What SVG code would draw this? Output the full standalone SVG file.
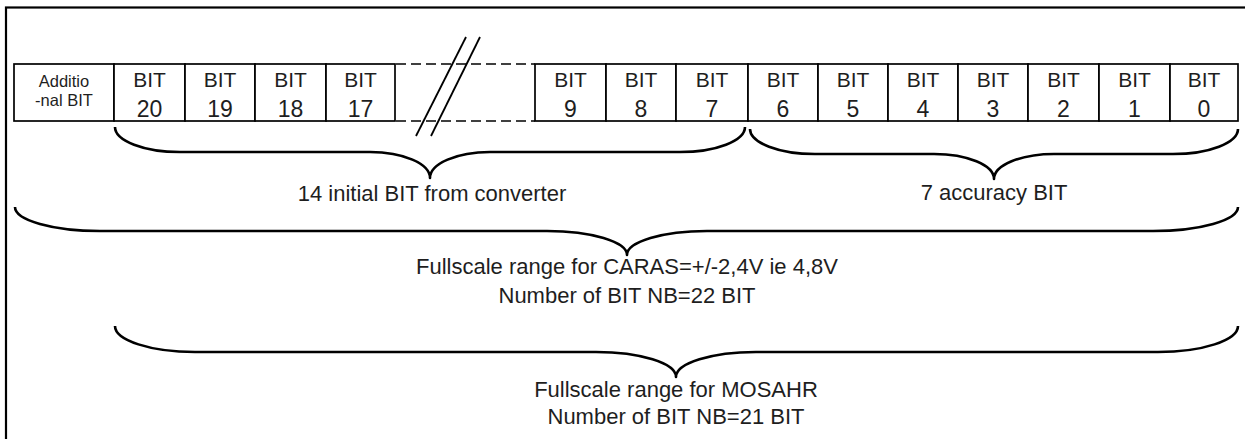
<svg xmlns="http://www.w3.org/2000/svg" width="1245" height="439" viewBox="0 0 1245 439">
<style>
.frame{fill:none;stroke:#000;stroke-width:2.2}
.cell{fill:#fff;stroke:#000;stroke-width:1.7}
.dash{fill:none;stroke:#000;stroke-width:1.7;stroke-dasharray:10 5}
.slash{fill:none;stroke:#000;stroke-width:1.8}
.brace{fill:none;stroke:#000;stroke-width:2.6;stroke-linejoin:round}
text{font-family:"Liberation Sans",Arial,sans-serif;fill:#1e1e1e;text-anchor:middle}
.bit{font-size:21px}
.num{font-size:23px}
.small{font-size:16.5px}
.lbl{font-size:22px}
</style>
<rect x="0" y="0" width="1245" height="439" fill="#fff"/>
<rect class="frame" x="6" y="7.5" width="1260" height="450"/>

<g id="register">
  <g id="cell-additional"><rect class="cell" x="14" y="64" width="100" height="57"/><text class="small" x="64" y="87">Additio</text><text class="small" x="64" y="106">-nal BIT</text></g>
  <g id="cell-bit20"><rect class="cell" x="114" y="64" width="71" height="57"/><text class="bit" x="149.5" y="87">BIT</text><text class="num" x="149.5" y="117">20</text></g>
  <g id="cell-bit19"><rect class="cell" x="185" y="64" width="70" height="57"/><text class="bit" x="220" y="87">BIT</text><text class="num" x="220" y="117">19</text></g>
  <g id="cell-bit18"><rect class="cell" x="255" y="64" width="71" height="57"/><text class="bit" x="290.5" y="87">BIT</text><text class="num" x="290.5" y="117">18</text></g>
  <g id="cell-bit17"><rect class="cell" x="326" y="64" width="69" height="57"/><text class="bit" x="360.5" y="87">BIT</text><text class="num" x="360.5" y="117">17</text></g>
  <g id="gap">
    <line class="dash" x1="396" y1="64" x2="535" y2="64"/>
    <line class="dash" x1="396" y1="121" x2="535" y2="121"/>
    <line class="slash" x1="466" y1="37" x2="416" y2="136"/>
    <line class="slash" x1="480" y1="37" x2="431" y2="136"/>
  </g>
  <g id="cell-bit9"><rect class="cell" x="535" y="64" width="71" height="57"/><text class="bit" x="570.5" y="87">BIT</text><text class="num" x="570.5" y="117">9</text></g>
  <g id="cell-bit8"><rect class="cell" x="606" y="64" width="70" height="57"/><text class="bit" x="641" y="87">BIT</text><text class="num" x="641" y="117">8</text></g>
  <g id="cell-bit7"><rect class="cell" x="676" y="64" width="72" height="57"/><text class="bit" x="712" y="87">BIT</text><text class="num" x="712" y="117">7</text></g>
  <g id="cell-bit6"><rect class="cell" x="748" y="64" width="70" height="57"/><text class="bit" x="783" y="87">BIT</text><text class="num" x="783" y="117">6</text></g>
  <g id="cell-bit5"><rect class="cell" x="818" y="64" width="70" height="57"/><text class="bit" x="853" y="87">BIT</text><text class="num" x="853" y="117">5</text></g>
  <g id="cell-bit4"><rect class="cell" x="888" y="64" width="70" height="57"/><text class="bit" x="923" y="87">BIT</text><text class="num" x="923" y="117">4</text></g>
  <g id="cell-bit3"><rect class="cell" x="958" y="64" width="70" height="57"/><text class="bit" x="993" y="87">BIT</text><text class="num" x="993" y="117">3</text></g>
  <g id="cell-bit2"><rect class="cell" x="1028" y="64" width="71" height="57"/><text class="bit" x="1063.5" y="87">BIT</text><text class="num" x="1063.5" y="117">2</text></g>
  <g id="cell-bit1"><rect class="cell" x="1099" y="64" width="71" height="57"/><text class="bit" x="1134.5" y="87">BIT</text><text class="num" x="1134.5" y="117">1</text></g>
  <g id="cell-bit0"><rect class="cell" x="1170" y="64" width="68" height="57"/><text class="bit" x="1204" y="87">BIT</text><text class="num" x="1204" y="117">0</text></g>
</g>

<g id="connectors">
  <path id="brace-initial" class="brace" d="M115,127 A65,25 0 0 0 180,152 H370 A60,26 0 0 1 430,178 A60,26 0 0 1 490,152 H680 A65,25 0 0 0 745,127"/>
  <path id="brace-accuracy" class="brace" d="M750,129 A65,25 0 0 0 815,154 H934 A60,25 0 0 1 994,179 A60,25 0 0 1 1054,154 H1173 A65,25 0 0 0 1238,129"/>
  <path id="brace-caras" class="brace" d="M15,207 A85,24 0 0 0 100,231 H547 A80,24 0 0 1 627,255 A80,24 0 0 1 707,231 H1153 A85,24 0 0 0 1238,207"/>
  <path id="brace-mosahr" class="brace" d="M115,326 A80,26 0 0 0 195,352 H596 A80,25 0 0 1 676,377 A80,25 0 0 1 756,352 H1158 A80,26 0 0 0 1238,326"/>
</g>

<g id="label-initial"><text class="lbl" x="432" y="201">14 initial BIT from converter</text></g>
<g id="label-accuracy"><text class="lbl" x="994" y="200">7 accuracy BIT</text></g>
<g id="label-caras"><text class="lbl" x="627" y="274">Fullscale range for CARAS=+/-2,4V ie 4,8V</text><text class="lbl" x="627" y="303">Number of BIT NB=22 BIT</text></g>
<g id="label-mosahr"><text class="lbl" x="676" y="397">Fullscale range for MOSAHR</text><text class="lbl" x="676" y="424">Number of BIT NB=21 BIT</text></g>
</svg>
